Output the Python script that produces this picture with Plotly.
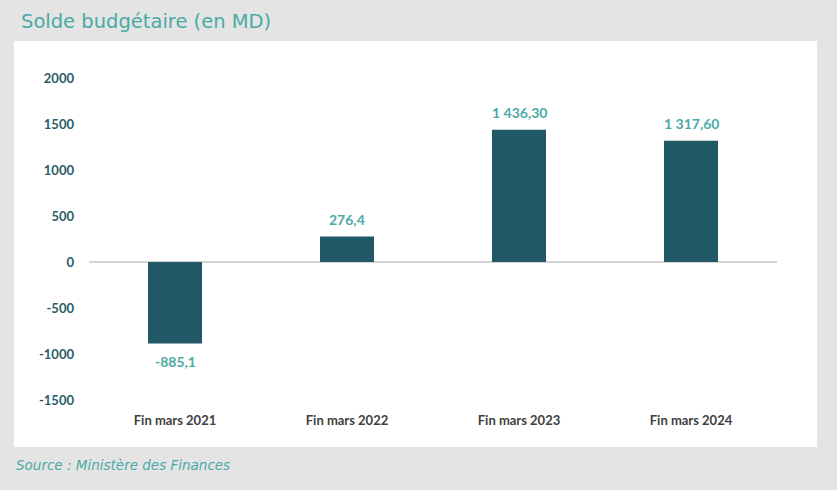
import plotly.graph_objects as go

categories = ["Fin mars 2021", "Fin mars 2022", "Fin mars 2023", "Fin mars 2024"]
values = [-885.1, 276.4, 1436.3, 1317.6]
value_labels = ["-885,1", "276,4", "1 436,30", "1 317,60"]
y_ticks = [-1500, -1000, -500, 0, 500, 1000, 1500, 2000]

W, H = 837, 490
L, R, T, B = 89, 60, 78, 90
pw, ph = W - L - R, H - T - B

def px_x(x):
    return (x - L) / pw

def px_y(y):
    return (H - B - y) / ph

fig = go.Figure()
fig.add_trace(go.Bar(
    x=categories, y=values,
    marker=dict(color="#215866", line=dict(width=0)),
    width=0.314,
    hoverinfo="skip",
))

annotations = []
for c, v, t in zip(categories, values, value_labels):
    annotations.append(dict(
        x=c, y=v, xref="x", yref="y", text=t, showarrow=False,
        yanchor="bottom" if v >= 0 else "top",
        yshift=7 if v >= 0 else -8,
        font=dict(family="Lato", size=14, color="#4aaaa5", weight="bold"),
    ))

annotations.append(dict(
    x=px_x(19), y=px_y(22), xref="paper", yref="paper", xanchor="left", yanchor="middle",
    text="Solde budgétaire (en MD)", showarrow=False,
    font=dict(family="DejaVu Sans", size=19.5, color="#4aaaa5"),
))
annotations.append(dict(
    x=px_x(14), y=px_y(465), xref="paper", yref="paper", xanchor="left", yanchor="middle",
    text="<i>Source : Ministère des Finances</i>", showarrow=False,
    font=dict(family="DejaVu Sans", size=13.5, color="#4aaaa5"),
))

fig.update_layout(
    width=W, height=H,
    margin=dict(l=L, r=R, t=T, b=B, pad=0),
    paper_bgcolor="#e4e4e4",
    plot_bgcolor="white",
    showlegend=False,
    annotations=annotations,
    shapes=[dict(
        type="rect", xref="paper", yref="paper",
        x0=px_x(14), x1=px_x(817), y0=px_y(447), y1=px_y(41),
        fillcolor="white", line=dict(width=0), layer="below",
    )],
    xaxis=dict(
        showgrid=False, zeroline=False, showline=False, ticks="",
        tickfont=dict(family="Lato", size=13, color="#404040", weight="bold"),
        ticklabelstandoff=11,
        fixedrange=True,
    ),
    yaxis=dict(
        range=[-1500, 2000], tickvals=y_ticks, ticktext=[str(v) for v in y_ticks],
        showgrid=False, zeroline=True, zerolinecolor="#d4d4d4", zerolinewidth=1.5,
        showline=False, ticks="",
        tickfont=dict(family="Lato", size=13, color="#2b5c68", weight="bold"),
        ticklabelstandoff=14,
        fixedrange=True,
    ),
)

fig.write_html("out.html")
